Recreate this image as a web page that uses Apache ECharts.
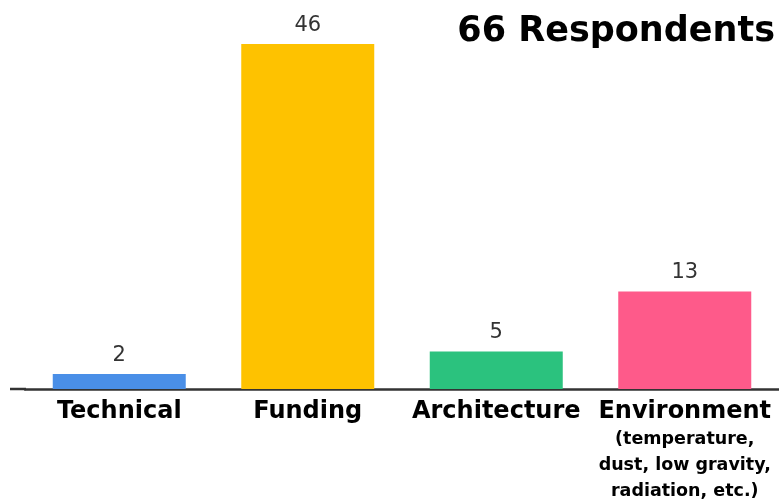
<!DOCTYPE html>
<html>
<head>
<meta charset="utf-8">
<script src="https://cdn.jsdelivr.net/npm/echarts@6/dist/echarts.min.js"></script>
<style>
  html, body { margin: 0; padding: 0; background: #fff; }
  #chart { width: 779px; height: 500px; }
</style>
</head>
<body>
<div id="chart"></div>
<script>
// Survey: main obstacles named by respondents
const categories = ['Technical', 'Funding', 'Architecture', 'Environment'];
const subLabels = ['', '', '', '(temperature,\ndust, low gravity,\nradiation, etc.)'];
const counts = [2, 46, 5, 13];
const barColors = ['#4a8fe7', '#fec200', '#2bc27e', '#fe5a8a'];
const titleText = '66 Respondents';

const FONT = '"DejaVu Sans", sans-serif';

const chart = echarts.init(document.getElementById('chart'), null, { renderer: 'canvas' });

chart.setOption({
  animation: false,
  backgroundColor: '#ffffff',
  title: {
    text: titleText,
    right: 4,
    top: 14,
    padding: 0,
    textStyle: { fontFamily: FONT, fontWeight: 'bold', fontSize: 35, color: '#000' }
  },
  grid: { left: 25, right: -2, top: 14, bottom: 109 },
  xAxis: {
    type: 'category',
    data: categories,
    axisTick: { show: false },
    axisLine: { lineStyle: { color: '#333', width: 2.5 } },
    axisLabel: {
      interval: 0,
      margin: 9,
      formatter: (val, idx) => {
        const sub = subLabels[idx];
        let s = '{main|' + val + '}';
        if (sub) s += '\n' + sub.split('\n').map(t => '{sub|' + t + '}').join('\n');
        return s;
      },
      rich: {
        main: { fontFamily: FONT, fontWeight: 'bold', fontSize: 24, color: '#000', lineHeight: 28 },
        sub: { fontFamily: FONT, fontWeight: 'bold', fontSize: 17.5, color: '#000', lineHeight: 26 }
      }
    }
  },
  yAxis: {
    type: 'value',
    min: 0,
    max: 50,
    show: false,
    splitLine: { show: false }
  },
  series: [{
    type: 'bar',
    data: counts.map((v, i) => ({ value: v, itemStyle: { color: barColors[i] } })),
    barWidth: 133,
    label: {
      show: true,
      position: 'top',
      distance: 8,
      fontFamily: FONT,
      fontSize: 21,
      color: '#333'
    }
  }]
});

// extend the baseline a little to the left of the first band
const y0 = chart.convertToPixel({ yAxisIndex: 0 }, 0);
chart.setOption({
  graphic: [{
    type: 'line',
    shape: { x1: 10, y1: y0, x2: 26, y2: y0 },
    style: { stroke: '#333', lineWidth: 2.5 }
  }]
});
</script>
</body>
</html>
